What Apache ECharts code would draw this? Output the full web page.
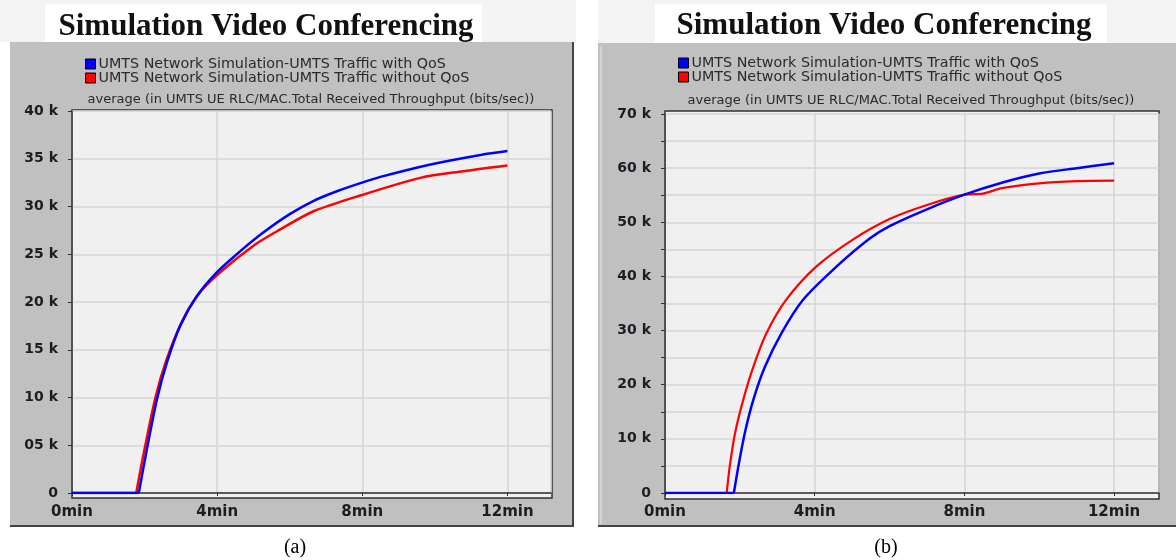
<!DOCTYPE html>
<html>
<head>
<meta charset="utf-8">
<script src="https://cdn.jsdelivr.net/npm/echarts@6/dist/echarts.min.js"></script>
<style>
  html, body { margin: 0; padding: 0; background: #ffffff; }
  #chart { width: 1176px; height: 560px; }
</style>
</head>
<body>
<div id="chart"></div>
<script>
// ---------- data (time in minutes, throughput in k bits/sec) ----------
const mainTitle = 'Simulation Video Conferencing';
const subTitle = 'average (in UMTS UE RLC/MAC.Total Received Throughput (bits/sec))';
const seriesNames = ['UMTS Network Simulation-UMTS Traffic with QoS', 'UMTS Network Simulation-UMTS Traffic without QoS'];
const captions = ['(a)', '(b)'];

// Panel (a): flat at 0 until onset, then rising
const blueA_onset = 1.84;
const blueA_t = [1.84, 2.06, 2.34, 2.61, 2.98, 3.44, 3.99, 4.63, 5.28, 6.0, 6.66, 7.3, 7.99, 8.5, 9.88, 11.26, 12.0];
const blueA_v = [0, 4.5, 9.8, 13.6, 17.5, 20.6, 23.1, 25.3, 27.3, 29.2, 30.6, 31.6, 32.5, 33.1, 34.4, 35.4, 35.8];
const redA_onset = 1.77;
const redA_t  = [1.77, 2.0, 2.3, 2.6, 3.0, 3.44, 3.99, 5.0, 5.74, 6.66, 7.99, 9.6, 10.79, 12.0];
const redA_v  = [0, 4.6, 10.0, 13.9, 17.7, 20.6, 22.8, 25.9, 27.6, 29.5, 31.2, 33.0, 33.7, 34.3];

// Panel (b)
const blueB_onset = 1.84;
const blueB_t = [1.84, 1.96, 2.13, 2.36, 2.67, 3.11, 3.69, 4.58, 5.47, 6.0, 7.0, 8.0, 9.0, 10.0, 11.0, 12.0];
const blueB_v = [0, 4.9, 11.0, 17.2, 23.3, 29.5, 35.7, 41.8, 47.0, 49.3, 52.4, 55.1, 57.3, 59.0, 60.0, 60.9];
const redB_onset = 1.65;
const redB_t  = [1.65, 1.73, 1.87, 2.09, 2.36, 2.71, 3.24, 4.04, 5.02, 6.0, 7.0, 8.0, 8.5, 9.0, 10.0, 11.0, 12.0];
const redB_v  = [0, 4.9, 11.0, 17.2, 23.3, 29.5, 35.7, 41.8, 46.8, 50.6, 53.2, 55.1, 55.3, 56.3, 57.2, 57.6, 57.7];

// flat segment [0, onset] then a break, then the smoothed rising part
const build = (onset, t, v) => [[0, 0], [onset, 0], [onset, '-']].concat(t.map((x, i) => [x, v[i] * 1000]));

const chart = echarts.init(document.getElementById('chart'), null, { renderer: 'canvas' });

const boldFont = 'DejaVu Sans, Liberation Sans, Arial, sans-serif';
const yLabelStyle = { color: '#1c1c24', fontSize: 14, fontWeight: 'bold', fontFamily: boldFont };
const xLabelStyle = { color: '#1c1c24', fontSize: 15, fontWeight: 'bold', fontFamily: boldFont };
const gridLine = { show: true, lineStyle: { color: '#d6d6d6', width: 1.5 } };

function xAxisCfg(gi) {
  return {
    type: 'value', gridIndex: gi, min: 0, max: 13.2, interval: 4, offset: 4,
    axisLine: { show: true, lineStyle: { color: '#303030', width: 1.5 } },
    axisTick: { show: true, length: 3, lineStyle: { color: '#303030' } },
    axisLabel: Object.assign({ formatter: v => v + 'min', showMaxLabel: false, margin: 8 }, xLabelStyle),
    splitLine: gridLine
  };
}

function lineSeries(name, data, color, gi, width) {
  return {
    type: 'line', name, data, xAxisIndex: gi, yAxisIndex: gi,
    showSymbol: false, smooth: 0.3, connectNulls: false,
    lineStyle: { color, width }, itemStyle: { color }, z: 3
  };
}

const font = 'DejaVu Sans, Liberation Sans, Arial, sans-serif';
const legendText = { fontSize: 14.3, color: '#2a2a2a', fontFamily: font, lineHeight: 14, padding: [0, 0, 0, -2] };

const option = {
  animation: false,
  backgroundColor: '#ffffff',
  grid: [
    { left: 72, right: 1176 - 551, top: 111, bottom: 560 - 493, containLabel: false },
    { left: 665, right: 1176 - 1159, top: 114, bottom: 560 - 493, containLabel: false }
  ],
  xAxis: [xAxisCfg(0), xAxisCfg(1)],
  yAxis: [
    {
      type: 'value', gridIndex: 0, min: 0, max: 40000, interval: 5000,
      axisLine: { show: true, lineStyle: { color: '#303030', width: 1.5 } },
      axisTick: { show: true, length: 4, lineStyle: { color: '#303030' } },
      axisLabel: Object.assign({ margin: 14, formatter: v => v === 0 ? '0' : (v === 5000 ? '05 k' : (v / 1000) + ' k') }, yLabelStyle),
      splitLine: gridLine
    },
    {
      type: 'value', gridIndex: 1, min: 0, max: 70000, interval: 5000,
      axisLine: { show: true, lineStyle: { color: '#303030', width: 1.5 } },
      axisTick: { show: true, length: 4, lineStyle: { color: '#303030' } },
      axisLabel: Object.assign({ margin: 14, formatter: v => v % 10000 === 0 ? (v === 0 ? '0' : (v / 1000) + ' k') : '' }, yLabelStyle),
      splitLine: gridLine
    }
  ],
  legend: [
    {
      orient: 'vertical', left: 80, top: 52, itemWidth: 10, itemHeight: 10, itemGap: 0,
      icon: 'rect', data: seriesNames,
      itemStyle: { borderColor: '#000', borderWidth: 1 },
      textStyle: legendText
    },
    {
      orient: 'vertical', left: 673, top: 51, itemWidth: 10, itemHeight: 10, itemGap: 0,
      icon: 'rect', data: seriesNames,
      itemStyle: { borderColor: '#000', borderWidth: 1 },
      textStyle: legendText
    }
  ],
  graphic: [
    // light strip at top
    { type: 'rect', z: -20, shape: { x: 0, y: 0, width: 576, height: 42 }, style: { fill: '#f3f3f3' } },
    { type: 'rect', z: -20, shape: { x: 598, y: 0, width: 578, height: 43 }, style: { fill: '#f3f3f3' } },
    // gray panels
    { type: 'rect', z: -20, shape: { x: 10, y: 42, width: 564, height: 484 }, style: { fill: '#c0c0c0' } },
    { type: 'line', z: -19, shape: { x1: 573, y1: 42, x2: 573, y2: 526 }, style: { stroke: '#444', lineWidth: 2 } },
    { type: 'line', z: -19, shape: { x1: 10, y1: 526, x2: 574, y2: 526 }, style: { stroke: '#444', lineWidth: 2 } },
    { type: 'rect', z: -20, shape: { x: 598, y: 43, width: 578, height: 483 }, style: { fill: '#c0c0c0' } },
    { type: 'line', z: -19, shape: { x1: 601, y1: 46, x2: 601, y2: 524 }, style: { stroke: '#d4d4d4', lineWidth: 2 } },
    { type: 'line', z: -19, shape: { x1: 598, y1: 526, x2: 1176, y2: 526 }, style: { stroke: '#444', lineWidth: 2 } },
    // plot backgrounds
    { type: 'rect', z: -10, shape: { x: 72, y: 110, width: 480, height: 388 }, style: { fill: '#f0f0f0', stroke: '#303030', lineWidth: 1.5 } },
    { type: 'rect', z: -10, shape: { x: 665, y: 111, width: 494, height: 388 }, style: { fill: '#f0f0f0', stroke: '#303030', lineWidth: 1.5 } },
    // title boxes
    { type: 'rect', z: -15, shape: { x: 45, y: 4, width: 437, height: 38 }, style: { fill: '#ffffff' } },
    { type: 'rect', z: -15, shape: { x: 655, y: 4, width: 452, height: 39 }, style: { fill: '#ffffff' } },
    // titles
    { type: 'text', z: 10, x: 266, y: 27, style: { text: mainTitle, align: 'center', verticalAlign: 'middle', font: 'bold 31px "Liberation Serif", "Times New Roman", serif', fill: '#111' } },
    { type: 'text', z: 10, x: 884, y: 26, style: { text: mainTitle, align: 'center', verticalAlign: 'middle', font: 'bold 31px "Liberation Serif", "Times New Roman", serif', fill: '#111' } },
    // subtitles
    { type: 'text', z: 10, x: 311, y: 100, style: { text: subTitle, align: 'center', verticalAlign: 'middle', font: '13px "DejaVu Sans", "Liberation Sans", Arial, sans-serif', fill: '#2a2a2a' } },
    { type: 'text', z: 10, x: 911, y: 101, style: { text: subTitle, align: 'center', verticalAlign: 'middle', font: '13px "DejaVu Sans", "Liberation Sans", Arial, sans-serif', fill: '#2a2a2a' } },
    // captions
    { type: 'text', z: 10, x: 295, y: 548, style: { text: captions[0], align: 'center', verticalAlign: 'middle', font: '20px "Liberation Serif", "Times New Roman", serif', fill: '#000' } },
    { type: 'text', z: 10, x: 886, y: 548, style: { text: captions[1], align: 'center', verticalAlign: 'middle', font: '20px "Liberation Serif", "Times New Roman", serif', fill: '#000' } }
  ],
  series: [
    lineSeries(seriesNames[1], build(redA_onset, redA_t, redA_v), '#ff0000', 0, 2.5),
    lineSeries(seriesNames[0], build(blueA_onset, blueA_t, blueA_v), '#0000ff', 0, 2.5),
    lineSeries(seriesNames[1], build(redB_onset, redB_t, redB_v), '#ff0000', 1, 2.2),
    lineSeries(seriesNames[0], build(blueB_onset, blueB_t, blueB_v), '#0000ff', 1, 2.5)
  ]
};

chart.setOption(option);
</script>
</body>
</html>
